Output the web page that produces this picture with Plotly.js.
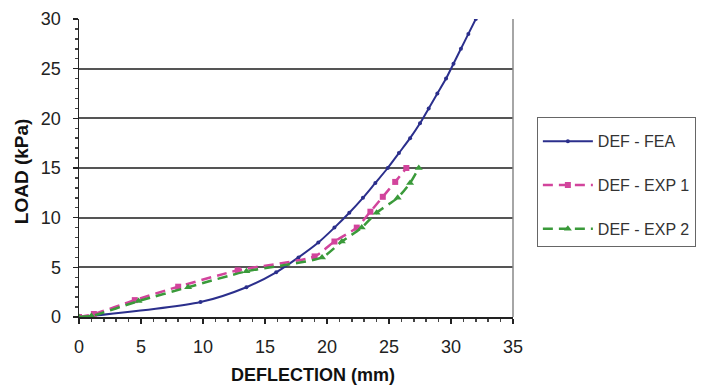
<!DOCTYPE html>
<html>
<head>
<meta charset="utf-8">
<script src="https://cdn.plot.ly/plotly-3.0.1.min.js"></script>
<style>html,body{margin:0;padding:0;background:#fff;}#chart{width:708px;height:387px;}</style>
</head>
<body>
<div id="chart"></div>
<script>
// Data
const feaX = [0, 1.0, 9.8, 13.5, 15.9, 17.7, 19.3, 20.6, 21.8, 22.9, 23.9, 24.9, 25.8, 26.7, 27.5, 28.2, 28.9, 29.6, 30.2, 30.8, 31.4, 32.0];
const feaY = [0, 0.1, 1.5, 3.0, 4.5, 6.0, 7.5, 9.0, 10.5, 12.0, 13.5, 15.0, 16.5, 18.0, 19.5, 21.0, 22.5, 24.0, 25.5, 27.0, 28.5, 30.0];
const exp1X = [0, 1.2, 4.5, 8.0, 12.8, 19.0, 20.6, 22.4, 23.5, 24.5, 25.5, 26.4];
const exp1Y = [0, 0.3, 1.7, 3.05, 4.7, 6.1, 7.6, 9.0, 10.6, 12.1, 13.6, 15.0];
const exp2X = [0, 1.0, 4.8, 8.8, 13.5, 19.6, 21.2, 22.8, 24.0, 25.7, 26.7, 27.4];
const exp2Y = [0, 0.1, 1.6, 3.0, 4.6, 6.0, 7.6, 9.0, 10.5, 12.0, 13.5, 15.0];
const seriesNames = ["DEF - FEA", "DEF - EXP 1", "DEF - EXP 2"];
const xTitle = "DEFLECTION (mm)";
const yTitle = "LOAD (kPa)";

const FONT = "Liberation Sans, Arial, sans-serif";

const traces = [
  {x: feaX, y: feaY, name: seriesNames[0], type: "scatter", mode: "lines+markers",
   legendgroup: "a",
   line: {color: "#2b2f8c", width: 2, shape: "spline", smoothing: 0.8}, marker: {color: "#2b2f8c", size: 4, symbol: "circle"}},
  {x: exp1X, y: exp1Y, name: seriesNames[1], type: "scatter", mode: "lines+markers",
   legendgroup: "b",
   line: {color: "#d2449c", width: 2.5, dash: "10px,6px", shape: "spline", smoothing: 0.6}, marker: {color: "#d2449c", size: 6, symbol: "square"}},
  {x: exp2X, y: exp2Y, name: seriesNames[2], type: "scatter", mode: "lines+markers",
   legendgroup: "c",
   line: {color: "#3a9a3a", width: 2.5, dash: "10px,6px", shape: "spline", smoothing: 0.6}, marker: {color: "#3a9a3a", size: 7, symbol: "triangle-up"}}
];

const layout = {
  width: 708, height: 387,
  margin: {l: 79, r: 195, t: 19, b: 70},
  paper_bgcolor: "#ffffff", plot_bgcolor: "#ffffff",
  font: {family: FONT, color: "#222", size: 16},
  showlegend: true,
  legend: {x: 1.055, y: 0.672, xanchor: "left", yanchor: "top",
           bordercolor: "#666", borderwidth: 1, bgcolor: "#fff",
           font: {family: FONT, size: 16, color: "#333"},
           itemwidth: 50,
           title: {text: " ", font: {size: 5}},
           traceorder: "grouped", tracegroupgap: 20},
  xaxis: {range: [0, 35], dtick: 5, tick0: 0, showgrid: false, zeroline: false,
          showline: true, linecolor: "#222", linewidth: 1.5,
          ticks: "outside", ticklen: 5, tickcolor: "#222", tickwidth: 1.5,
          ticklabelstandoff: 8,
          minor: {dtick: 1, ticks: "outside", ticklen: 3, tickcolor: "#444", showgrid: false},
          tickfont: {family: FONT, size: 18, color: "#222"}, fixedrange: true},
  yaxis: {range: [0, 30], dtick: 5, tick0: 0, showgrid: true, gridcolor: "#555", gridwidth: 2,
          zeroline: false, showline: true, linecolor: "#222", linewidth: 1.5,
          ticks: "outside", ticklen: 5, tickcolor: "#222", tickwidth: 1.5,
          ticklabelstandoff: 8,
          minor: {dtick: 1, ticks: "outside", ticklen: 3, tickcolor: "#444", showgrid: false},
          tickfont: {family: FONT, size: 18, color: "#222"},
          fixedrange: true},
  shapes: [
    {type: "line", xref: "paper", yref: "paper", x0: 1, x1: 1, y0: 0, y1: 1,
     line: {color: "#888", width: 1.5}}
  ],
  annotations: [
    {text: "<b>" + xTitle + "</b>", xref: "paper", yref: "paper", x: 0.539, y: -0.195,
     xanchor: "center", yanchor: "middle", showarrow: false,
     font: {family: FONT, size: 18, color: "#111"}},
    {text: "<b>" + yTitle + "</b>", xref: "paper", yref: "paper", x: -0.131, y: 0.49,
     xanchor: "center", yanchor: "middle", showarrow: false, textangle: -90,
     font: {family: FONT, size: 19, color: "#111"}}
  ]
};

Plotly.newPlot("chart", traces, layout, {displayModeBar: false, staticPlot: true});
</script>
</body>
</html>
